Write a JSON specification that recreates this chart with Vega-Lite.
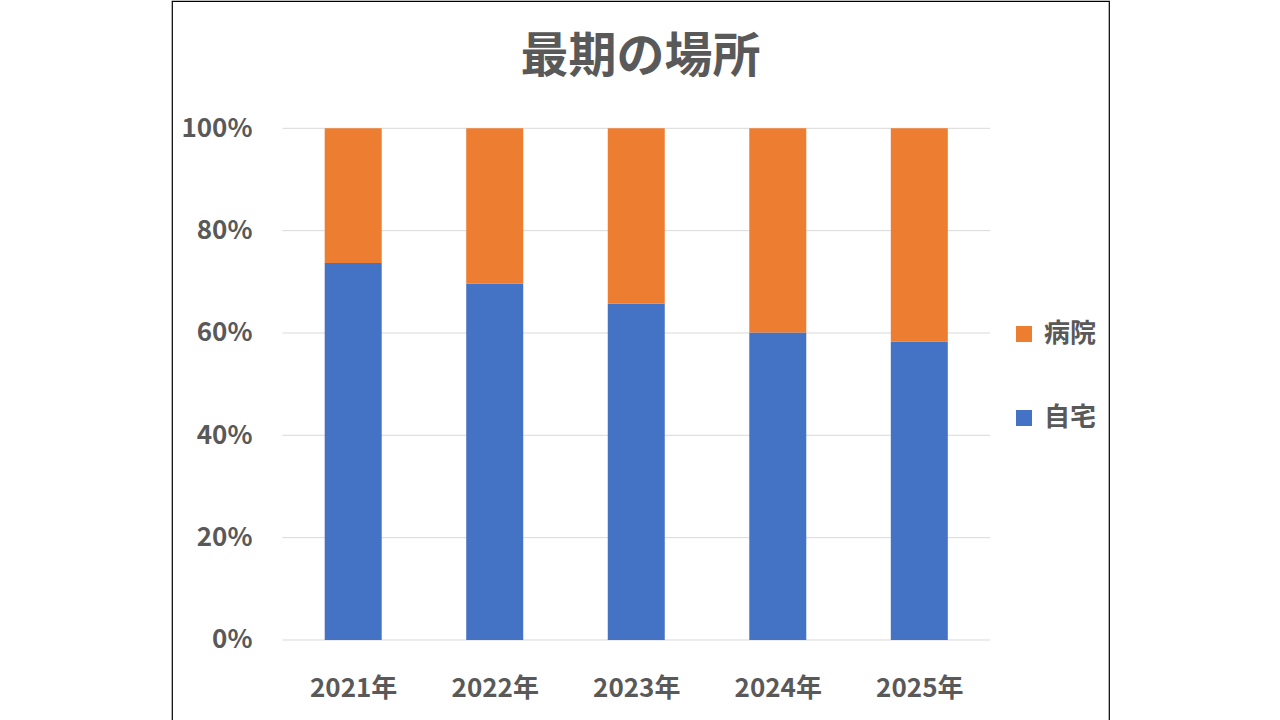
{
  "$schema": "https://vega.github.io/schema/vega-lite/v6.json",
  "autosize": "none",
  "padding": {"left": 172, "top": 1, "right": 171, "bottom": 0},
  "width": 937,
  "height": 729,
  "background": "white",
  "title": {
    "text": "最期の場所",
    "fontSize": 48,
    "fontWeight": "bold",
    "color": "#595959",
    "anchor": "middle",
    "frame": "group",
    "baseline": "top",
    "offset": 0,
    "dy": 81
  },
  "datasets": {
    "shares": [
      {"year": 2021, "place": "自宅", "share": 0.737},
      {"year": 2021, "place": "病院", "share": 0.263},
      {"year": 2022, "place": "自宅", "share": 0.696},
      {"year": 2022, "place": "病院", "share": 0.304},
      {"year": 2023, "place": "自宅", "share": 0.657},
      {"year": 2023, "place": "病院", "share": 0.343},
      {"year": 2024, "place": "自宅", "share": 0.601},
      {"year": 2024, "place": "病院", "share": 0.399},
      {"year": 2025, "place": "自宅", "share": 0.583},
      {"year": 2025, "place": "病院", "share": 0.417}
    ],
    "gridlines": [
      {"v": 0}, {"v": 0.2}, {"v": 0.4}, {"v": 0.6}, {"v": 0.8}, {"v": 1}
    ]
  },
  "layer": [
    {
      "data": {"name": "gridlines"},
      "mark": {"type": "rule", "color": "#D9D9D9", "strokeWidth": 1},
      "encoding": {
        "y": {
          "field": "v",
          "type": "quantitative",
          "scale": {"domain": [-0.1759, 1.2488], "nice": false, "zero": false},
          "axis": {
            "title": null,
            "values": [0, 0.2, 0.4, 0.6, 0.8, 1],
            "format": ".0%",
            "grid": false,
            "domain": false,
            "ticks": false,
            "offset": -80,
            "labelPadding": 0,
            "labelFontSize": 26
          }
        },
        "x": {"datum": 2020.5, "type": "quantitative"},
        "x2": {"datum": 2025.5}
      }
    },
    {
      "data": {"name": "shares"},
      "mark": {"type": "bar", "width": 57},
      "encoding": {
        "x": {
          "field": "year",
          "type": "quantitative",
          "scale": {"domain": [2019.755, 2026.305], "nice": false, "zero": false},
          "axis": {
            "title": null,
            "values": [2021, 2022, 2023, 2024, 2025],
            "labelExpr": "datum.value + '年'",
            "grid": false,
            "domain": false,
            "ticks": false,
            "offset": -55,
            "labelPadding": 0,
            "labelBaseline": "top",
            "labelFontSize": 26
          }
        },
        "y": {
          "field": "share",
          "type": "quantitative",
          "stack": "zero",
          "scale": {"domain": [-0.1759, 1.2488], "nice": false, "zero": false},
          "axis": {
            "title": null,
            "values": [0, 0.2, 0.4, 0.6, 0.8, 1],
            "format": ".0%",
            "grid": false,
            "domain": false,
            "ticks": false,
            "offset": -80,
            "labelPadding": 0,
            "labelFontSize": 26
          }
        },
        "color": {
          "field": "place",
          "type": "nominal",
          "scale": {"domain": ["病院", "自宅"], "range": ["#ED7D31", "#4472C4"]},
          "legend": {
            "title": null,
            "orient": "none",
            "legendX": 839,
            "legendY": 320,
            "symbolType": "square",
            "symbolSize": 256,
            "symbolStrokeWidth": 0,
            "symbolOpacity": 1,
            "labelFontSize": 26,
            "labelOffset": 7,
            "rowPadding": 58
          }
        },
        "order": {"field": "place", "sort": "descending"}
      }
    }
  ],
  "config": {
    "font": "Noto Sans CJK JP",
    "view": {"stroke": "#000000", "strokeWidth": 1.2},
    "axis": {
      "labelColor": "#595959",
      "labelFontWeight": "bold",
      "labelFont": "Noto Sans CJK JP"
    },
    "legend": {
      "labelColor": "#595959",
      "labelFontWeight": "bold",
      "labelFont": "Noto Sans CJK JP"
    },
    "title": {"font": "Noto Sans CJK JP"}
  }
}
